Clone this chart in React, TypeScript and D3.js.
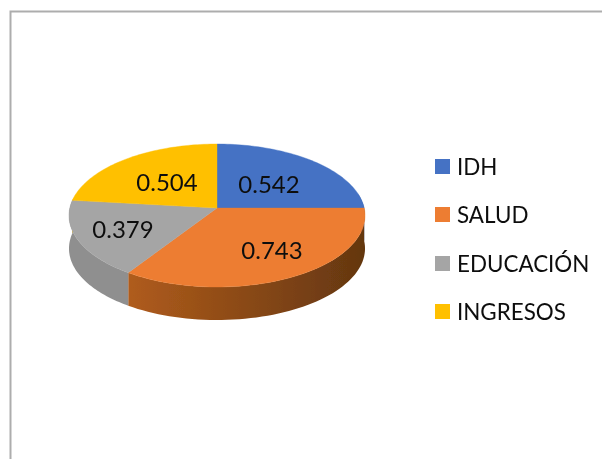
import React from "react";
import * as d3 from "d3";

const categories = ["IDH", "SALUD", "EDUCACIÓN", "INGRESOS"];
const values = [0.542, 0.743, 0.379, 0.504];
const labels = ["0.542", "0.743", "0.379", "0.504"];
const colors = ["#4472C4", "#ED7D31", "#A5A5A5", "#FFC000"];
const sideStart = ["#3a62a8", "#B05C1C", "#8F8F8F", "#d9a300"];
const sideEnd = ["#2f4f88", "#633610", "#808080", "#a87f00"];

const W = 602, H = 459;
const cx = 217, cy = 208, b = 147.2, a = 70.7, k = 0.105, depth = 33, clipBottom = 320;
const rScale = d3.scaleLinear().domain([0, 1]).range([0, 1]);

// perspective projection of a point on the pie disc
function project(angle: number, r = 1): [number, number] {
  const u = rScale(r) * Math.sin(angle);
  const v = rScale(r) * Math.cos(angle);
  const w = 1 + k * v;
  return [cx + (b * u) / w, cy - (a * v) / w];
}

const arcs = d3.pie<number>().sort(null)(values);
const line = d3.line();
const samples = (a0: number, a1: number) =>
  d3.range(0, 61).map((i) => a0 + ((a1 - a0) * i) / 60);

const labelPos: [number, number][] = [[269, 185], [272, 251], [123, 230], [167, 183]];
const legendY = [159, 207, 256, 304];

export default function App() {
  return (
    <svg width={W} height={H} style={{ position: "absolute", left: 0, top: 0, background: "#fff" }}
      fontFamily="Lato, 'Open Sans', sans-serif">
      <defs>
        <filter id="soft" x="-5%" y="-5%" width="110%" height="110%">
          <feGaussianBlur stdDeviation="0.4" />
        </filter>
        <clipPath id="clipPie"><rect x={0} y={0} width={W} height={clipBottom} /></clipPath>
        {arcs.map((_, i) => (
          <linearGradient key={i} id={`side${i}`} gradientUnits="userSpaceOnUse" x1={cx - 150} x2={cx + 150} y1={0} y2={0}>
            <stop offset="0" stopColor={i === 1 ? "#C8691F" : sideStart[i]} />
            <stop offset={i === 1 ? "0.2" : "1"} stopColor={sideStart[i]} />
            <stop offset="1" stopColor={sideEnd[i]} />
          </linearGradient>
        ))}
      </defs>
      <path d={`M10.5 459V11.5H602`} fill="none" stroke="#ADADAD" strokeWidth={2} />
      <g filter="url(#soft)">
        <g clipPath="url(#clipPie)">
          {arcs.map((d, i) => {
            const a0 = Math.max(d.startAngle, Math.PI / 2 - 0.2);
            const a1 = Math.min(d.endAngle, (3 * Math.PI) / 2 + 0.15);
            if (a1 <= a0) return null;
            const top = samples(a0, a1).map((t) => project(t));
            const bottom = top.slice().reverse().map(([x, y]) => [x, y + depth] as [number, number]);
            return <path key={i} d={(line([...top, ...bottom]) as string) + "Z"} fill={`url(#side${i})`} />;
          })}
        </g>
        {arcs.map((d, i) => {
          const pts = samples(d.startAngle, d.endAngle).map((t) => project(t));
          return (
            <path key={i} d={(line([[cx, cy], ...pts]) as string) + "Z"} fill={colors[i]} stroke={colors[i]} strokeWidth={0.4} />
          );
        })}
        {labels.map((t, i) => (
          <text key={t} x={labelPos[i][0]} y={labelPos[i][1] + 8} textAnchor="middle" fontSize={24} fill="#111">{t}</text>
        ))}
        {categories.map((c, i) => (
          <g key={c}>
            <rect x={435} y={legendY[i]} width={15} height={15} fill={colors[i]} />
            <text x={457} y={legendY[i] + 16} fontSize={22.4} fill="#111">{c}</text>
          </g>
        ))}
      </g>
    </svg>
  );
}
